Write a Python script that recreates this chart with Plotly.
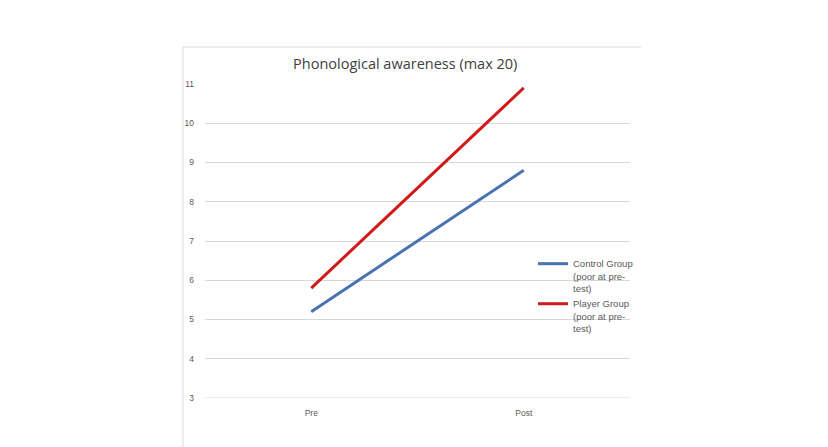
import plotly.graph_objects as go

categories = ["Pre", "Post"]
control_values = [5.2, 8.8]
player_values = [5.8, 10.9]
control_name = "Control Group<br>(poor at pre-<br>test)"
player_name = "Player Group<br>(poor at pre-<br>test)"
title_text = "Phonological awareness (max 20)"
y_ticks = [3, 4, 5, 6, 7, 8, 9, 10, 11]

W, H = 828, 447
L, R, T, B = 205, 630, 84, 398  # plot area pixels

fig = go.Figure()
fig.add_trace(go.Scatter(x=categories, y=control_values, mode="lines", name=control_name,
                         line=dict(color="#4A72B0", width=3)))
fig.add_trace(go.Scatter(x=categories, y=player_values, mode="lines", name=player_name,
                         line=dict(color="#D01A1A", width=3)))

pw, ph = R - L, B - T
def px(x): return (x - L) / pw
def py(y): return (B - y) / ph

fig.update_layout(
    width=W, height=H,
    margin=dict(l=L, r=W - R, t=T, b=H - B),
    paper_bgcolor="white", plot_bgcolor="white",
    font=dict(family="Liberation Sans, Arial, sans-serif", color="#595959"),
    title=dict(text=title_text, x=px(413), xanchor="center", y=1 - 64 / H, yanchor="middle",
               font=dict(size=14.5, family="Open Sans, sans-serif", color="#404040")),
    xaxis=dict(type="category", range=[-0.5, 1.5], showgrid=False, zeroline=False,
               showline=False, ticks="", ticklabelstandoff=8,
               tickfont=dict(size=8.5, color="#595959")),
    yaxis=dict(range=[3, 11], tickvals=y_ticks, showgrid=True, gridcolor="#D9D9D9",
               gridwidth=1, zeroline=False, showline=False, ticks="",
               ticklabelstandoff=10, tickfont=dict(size=8.5, color="#595959")),
    legend=dict(x=px(533), y=py(251), xanchor="left", yanchor="top", valign="top",
                bgcolor="rgba(0,0,0,0)", font=dict(size=9.5, color="#595959"),
                tracegroupgap=0, itemwidth=30),
    showlegend=True,
)

grid = dict(color="#D9D9D9", width=1)
fig.add_shape(type="line", xref="paper", yref="y", x0=0, x1=1,
              y0=y_ticks[0], y1=y_ticks[0], line=grid, layer="below")
fig.add_shape(type="line", xref="paper", yref="paper", x0=px(183), x1=px(183),
              y0=py(47), y1=py(447), line=grid)
fig.add_shape(type="line", xref="paper", yref="paper", x0=px(183), x1=px(641),
              y0=py(47), y1=py(47), line=grid)

fig.write_html("out.html")
